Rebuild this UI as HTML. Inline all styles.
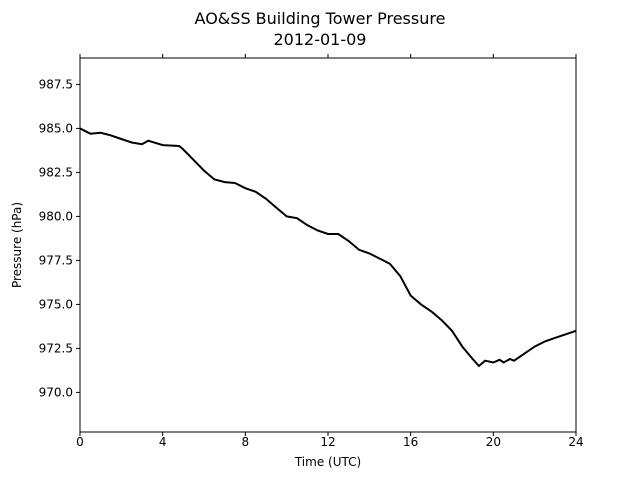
<!DOCTYPE html>
<html><head><meta charset="utf-8"><style>
body{margin:0;background:#fff;font-family:"Liberation Sans","DejaVu Sans",sans-serif;}
svg text{font-family:"DejaVu Sans","Liberation Sans",sans-serif;}
</style></head><body>
<svg id="chart" width="640" height="480" viewBox="0 0 640 480">
<rect width="640" height="480" fill="#fff"/>
<text x="320" y="24" text-anchor="middle" font-size="16">AO&amp;SS Building Tower Pressure</text>
<text x="320" y="45" text-anchor="middle" font-size="16">2012-01-09</text>
<g id="axes"></g>
<text x="328" y="466" text-anchor="middle" font-size="12">Time (UTC)</text>
<text transform="translate(21,245) rotate(-90)" text-anchor="middle" font-size="12">Pressure (hPa)</text>
</svg>
<script>
const hours=[0,0.5,1,1.5,2,2.5,3,3.3,4,4.8,5,5.5,6,6.5,7,7.5,8,8.5,9,9.5,10,10.5,11,11.5,12,12.5,13,13.5,14,14.5,15,15.5,16,16.5,17,17.5,18,18.5,19,19.3,19.6,20,20.3,20.5,20.8,21,21.5,22,22.5,23,23.5,24];
const pressure=[985.0,984.7,984.75,984.6,984.4,984.2,984.1,984.3,984.05,984.0,983.8,983.2,982.6,982.1,981.95,981.9,981.6,981.4,981.0,980.5,980.0,979.9,979.5,979.2,979.0,979.0,978.6,978.1,977.9,977.6,977.3,976.6,975.5,975.0,974.6,974.1,973.5,972.6,971.9,971.5,971.8,971.7,971.85,971.7,971.9,971.8,972.2,972.6,972.9,973.1,973.3,973.5];
const xTicks=[0,4,8,12,16,20,24];
const yTicks=[970.0,972.5,975.0,977.5,980.0,982.5,985.0,987.5];
const L=80,R=576,T=58,B=432,xMin=0,xMax=24,yMin=967.75,yMax=989;
const xs=v=>L+(v-xMin)/(xMax-xMin)*(R-L);
const ys=v=>B-(v-yMin)/(yMax-yMin)*(B-T);
const NS="http://www.w3.org/2000/svg";
const g=document.getElementById('axes');
function mk(t,a){const e=document.createElementNS(NS,t);for(const k in a)e.setAttribute(k,a[k]);g.appendChild(e);return e;}
let d=hours.map((h,i)=>(i?'L':'M')+xs(h).toFixed(1)+','+ys(pressure[i]).toFixed(1)).join('');
const line=mk('path',{d:d,fill:'none',stroke:'#000','stroke-width':2});


const frame=mk('rect',{x:L,y:T,width:R-L,height:B-T,fill:'none',stroke:'#000','stroke-width':1});


xTicks.forEach(v=>{const x=xs(v);
mk('line',{x1:x,x2:x,y1:B,y2:B+4,stroke:'#000'});
mk('line',{x1:x,x2:x,y1:T,y2:T-4,stroke:'#000'});
const t=mk('text',{x:x,y:B+14,'text-anchor':'middle','font-size':12});t.textContent=v;

});
yTicks.forEach(v=>{const y=ys(v);
mk('line',{x1:L,x2:L-4,y1:y,y2:y,stroke:'#000'});
const t=mk('text',{x:L-7,y:y+4,'text-anchor':'end','font-size':12});t.textContent=v.toFixed(1);

});
</script>
</body></html>
